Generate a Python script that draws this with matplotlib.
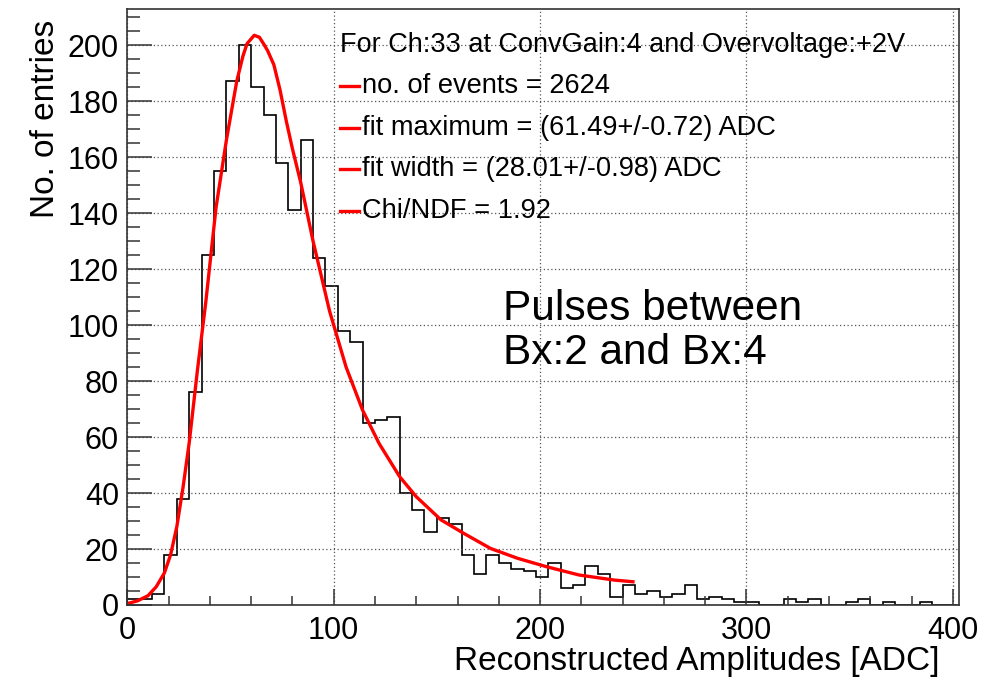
#!/usr/bin/env python3

import matplotlib
matplotlib.use('Agg')
import matplotlib.pyplot as plt
import numpy as np
from matplotlib.ticker import MultipleLocator

plt.rcParams['font.family'] = ['Liberation Sans', 'DejaVu Sans']

# histogram: 6 ADC wide bins from 0 to 402
bin_edges = np.arange(0, 403, 6)
counts = [2, 2, 4, 18, 38, 76, 125, 155, 187, 200, 185, 175,
          158, 141, 166, 124, 114, 98, 94, 65, 66, 67, 40, 34,
          26, 31, 29, 18, 11, 18, 15, 13, 12, 10, 15, 6,
          7, 14, 11, 3, 7, 4, 5, 3, 4, 7, 2, 3,
          2, 1, 1, 0, 0, 2, 1, 2, 0, 0, 1, 2,
          0, 1, 0, 0, 1, 0, 0]

# fit curve
fit_x = [0, 5, 10, 14, 18, 21, 24, 27, 30, 34, 38, 43, 48, 53, 56, 58, 61.5,
         64, 66, 68, 71, 74, 77, 80, 84, 90, 98, 106, 114, 122, 132, 140, 152,
         163, 176, 189, 203, 219, 236, 245]
fit_y = [0.5, 1.5, 3.3, 6.5, 11.5, 18, 28, 42, 58, 84, 108, 142, 166, 187,
         196, 200.5, 203.5, 202.8, 200.5, 198, 193, 184, 173, 163, 151, 130,
         105, 85, 69.6, 57.7, 45.8, 38.7, 30.4, 25.6, 20.2, 16.7, 13.7, 10.7,
         8.9, 8.3]

header = 'For Ch:33 at ConvGain:4 and Overvoltage:+2V'
entries = ['no. of events = 2624',
           'fit maximum = (61.49+/-0.72) ADC',
           'fit width = (28.01+/-0.98) ADC',
           'Chi/NDF = 1.92']
note = 'Pulses between\nBx:2 and Bx:4'

fig = plt.figure(figsize=(10.04, 6.8), dpi=100)
ax = fig.add_axes([0.1268, 0.1103, 0.8284, 0.8769])

ax.stairs(counts, bin_edges, color='black', linewidth=1.2)
ax.plot(fit_x, fit_y, color='red', linewidth=2.4)

ax.set_xlim(0, 403)
ax.set_ylim(0, 213)
ax.xaxis.set_major_locator(MultipleLocator(100))
ax.xaxis.set_minor_locator(MultipleLocator(20))
ax.yaxis.set_major_locator(MultipleLocator(20))
ax.yaxis.set_minor_locator(MultipleLocator(5))
ax.grid(True, which='major', linestyle=(0, (1, 2)), color='#555555', linewidth=0.9)

ax.tick_params(axis='both', which='both', direction='in', colors='#333333',
               labelcolor='black', labelsize=22, width=1.1)
ax.tick_params(axis='y', which='major', length=18, pad=6)
ax.tick_params(axis='y', which='minor', length=9.5)
ax.tick_params(axis='x', which='major', length=11.5, pad=8)
ax.tick_params(axis='x', which='minor', length=6.5)
for s in ax.spines.values():
    s.set_color('#333333')
    s.set_linewidth(1.2)

ax.set_xlabel('Reconstructed Amplitudes [ADC]', fontsize=24, ha='right')
ax.xaxis.set_label_coords(0.977, -0.068)
ax.set_ylabel('No. of entries', fontsize=24, ha='right')
ax.yaxis.set_label_coords(-0.080, 0.981)

# legend-like block
ax.text(0.2557, 0.9391, header, transform=ax.transAxes, fontsize=19.5,
        va='center', ha='left')
rows_y = [0.8704, 0.8000, 0.7317, 0.6612]
for yy, txt in zip(rows_y, entries):
    ax.plot([0.2557, 0.2780], [yy, yy], transform=ax.transAxes, color='red', linewidth=2.4)
    ax.text(0.2822, yy, txt, transform=ax.transAxes, fontsize=19.6, va='center', ha='left')

ax.text(0.4517, 0.459, note, transform=ax.transAxes, fontsize=30.5, va='center',
        ha='left', linespacing=1.12)

fig.savefig('out.png', dpi=100)
